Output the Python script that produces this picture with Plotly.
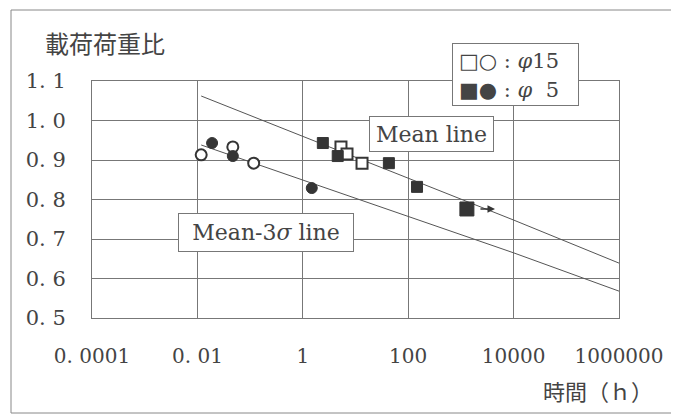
import math
import plotly.graph_objects as go

# ---- data ----
open_circle_x = [0.0118, 0.047, 0.117]
open_circle_y = [0.913, 0.933, 0.892]
filled_circle_x = [0.019, 0.047, 1.48]
filled_circle_y = [0.943, 0.910, 0.829]
open_square_x = [5.3, 6.9, 13.3]
open_square_y = [0.933, 0.915, 0.892]
filled_square_x = [2.4, 4.6, 43, 147, 1300]
filled_square_y = [0.943, 0.910, 0.892, 0.832, 0.776]
mean_line_x = [0.0118, 1e4, 1e6]
mean_line_y = [1.062, 0.748, 0.639]
mean3s_line_x = [0.0118, 1e4, 1e6]
mean3s_line_y = [0.938, 0.665, 0.568]
arrow_from_x, arrow_to_x, arrow_y = 2200, 4440, 0.776
x_tickvals = [1e-4, 1e-2, 1, 100, 1e4, 1e6]
x_ticktext = ["0. 0001", "0. 01", "1", "100", "10000", "1000000"]
y_tickvals = [0.5, 0.6, 0.7, 0.8, 0.9, 1.0, 1.1]
y_ticktext = ["0. 5", "0. 6", "0. 7", "0. 8", "0. 9", "1. 0", "1. 1"]
legend_lines = ["□○ : <i>φ</i>15", "■● : <i>φ</i>  5"]

DARK = "#353535"
LINE = "#555555"
GRID = "#777777"
TXT = "#444444"
SERIF = "DejaVu Serif, Liberation Serif, serif"
CJK = "Noto Sans CJK JP"

OFF = 8                      # page body margin
W, H = 679 - OFF, 415 - OFF  # figure size
PLOT_L, PLOT_T, PLOT_R, PLOT_B = 92, 81, 619, 318   # target pixels on page
L, T = PLOT_L - OFF, PLOT_T - OFF
PW, PH = PLOT_R - PLOT_L, PLOT_B - PLOT_T
R, B = W - L - PW, H - T - PH

def px(x):
    return (x - PLOT_L) / PW

def py(y):
    return (PLOT_B - y) / PH

fig = go.Figure()
fig.add_trace(go.Scatter(x=mean_line_x, y=mean_line_y, mode="lines",
                         line=dict(color=LINE, width=1), showlegend=False))
fig.add_trace(go.Scatter(x=mean3s_line_x, y=mean3s_line_y, mode="lines",
                         line=dict(color=LINE, width=1), showlegend=False))
fig.add_trace(go.Scatter(x=open_circle_x, y=open_circle_y, mode="markers",
                         marker=dict(symbol="circle", size=11, color="white",
                                     line=dict(color=DARK, width=2)), showlegend=False))
fig.add_trace(go.Scatter(x=filled_circle_x, y=filled_circle_y, mode="markers",
                         marker=dict(symbol="circle", size=11, color=DARK,
                                     line=dict(color=DARK, width=1)), showlegend=False))
fig.add_trace(go.Scatter(x=open_square_x, y=open_square_y, mode="markers",
                         marker=dict(symbol="square", size=11, color="white",
                                     line=dict(color=DARK, width=2)), showlegend=False))
fig.add_trace(go.Scatter(x=filled_square_x, y=filled_square_y, mode="markers",
                         marker=dict(symbol="square", size=[11, 11, 11, 11, 14], color=DARK,
                                     opacity=1, line=dict(color=DARK, width=1)),
                         showlegend=False))

annotations = [
    dict(x=math.log10(arrow_to_x), y=arrow_y, ax=math.log10(arrow_from_x), ay=arrow_y,
         xref="x", yref="y", axref="x", ayref="y", text="", showarrow=True,
         arrowhead=2, arrowsize=1, arrowwidth=1.5, arrowcolor=DARK),
    dict(x=px(43), y=py(43), xref="paper", yref="paper", xanchor="left", yanchor="middle",
         text="載荷荷重比", showarrow=False, font=dict(family=CJK, size=24, color=TXT)),
    dict(x=px(655), y=py(390), xref="paper", yref="paper", xanchor="right", yanchor="middle",
         text="時間（ｈ）", showarrow=False, font=dict(family=CJK, size=22, color=TXT)),
    dict(x=px(431.5), y=py(134), xref="paper", yref="paper", xanchor="center", yanchor="middle",
         text="Mean line", showarrow=False, width=123, height=34, borderpad=0,
         bgcolor="white", bordercolor=GRID, borderwidth=1,
         font=dict(family=SERIF, size=22, color=TXT)),
    dict(x=px(266), y=py(232.5), xref="paper", yref="paper", xanchor="center", yanchor="middle",
         text="Mean-3<i>σ</i> line", showarrow=False, width=174, height=37, borderpad=0,
         bgcolor="white", bordercolor=GRID, borderwidth=1,
         font=dict(family=SERIF, size=22, color=TXT)),
    # legend frame
    dict(x=px(515.5), y=py(74.5), xref="paper", yref="paper", xanchor="center", yanchor="middle",
         text=" ", showarrow=False, width=125, height=61,
         borderpad=0, bgcolor="white", bordercolor=GRID, borderwidth=1),
]
for i, (line_text, yy) in enumerate(zip(legend_lines, [61, 90])):
    annotations.append(
        dict(x=px(457), y=py(yy), xref="paper", yref="paper", xanchor="left", yanchor="middle",
             text=line_text, showarrow=False,
             font=dict(family=SERIF + ", " + CJK, size=21, color=TXT)))

shapes = [
    dict(type="path", xref="paper", yref="paper",
         path=f"M {px(700)},{py(10)} L {px(11)},{py(10)} L {px(11)},{py(413)} L {px(700)},{py(413)}",
         line=dict(color="#888888", width=1)),
]

fig.update_layout(
    width=W, height=H,
    margin=dict(l=L, r=R, t=T, b=B, autoexpand=False),
    paper_bgcolor="white", plot_bgcolor="white",
    annotations=annotations, shapes=shapes,
    xaxis=dict(type="log", range=[-4, 6], tickvals=x_tickvals, ticktext=x_ticktext,
               showgrid=True, gridcolor=GRID, gridwidth=1, automargin=False,
               showline=True, linecolor=GRID, linewidth=1, mirror=True,
               ticks="", ticklabelstandoff=20,
               tickfont=dict(family=SERIF, size=20, color=TXT), zeroline=False),
    yaxis=dict(range=[0.5, 1.1], tickvals=y_tickvals, ticktext=y_ticktext,
               showgrid=True, gridcolor=GRID, gridwidth=1, automargin=False,
               showline=True, linecolor=GRID, linewidth=1, mirror=True,
               ticks="", ticklabelstandoff=21,
               tickfont=dict(family=SERIF, size=21, color=TXT), zeroline=False),
)

fig.write_html("out.html")
